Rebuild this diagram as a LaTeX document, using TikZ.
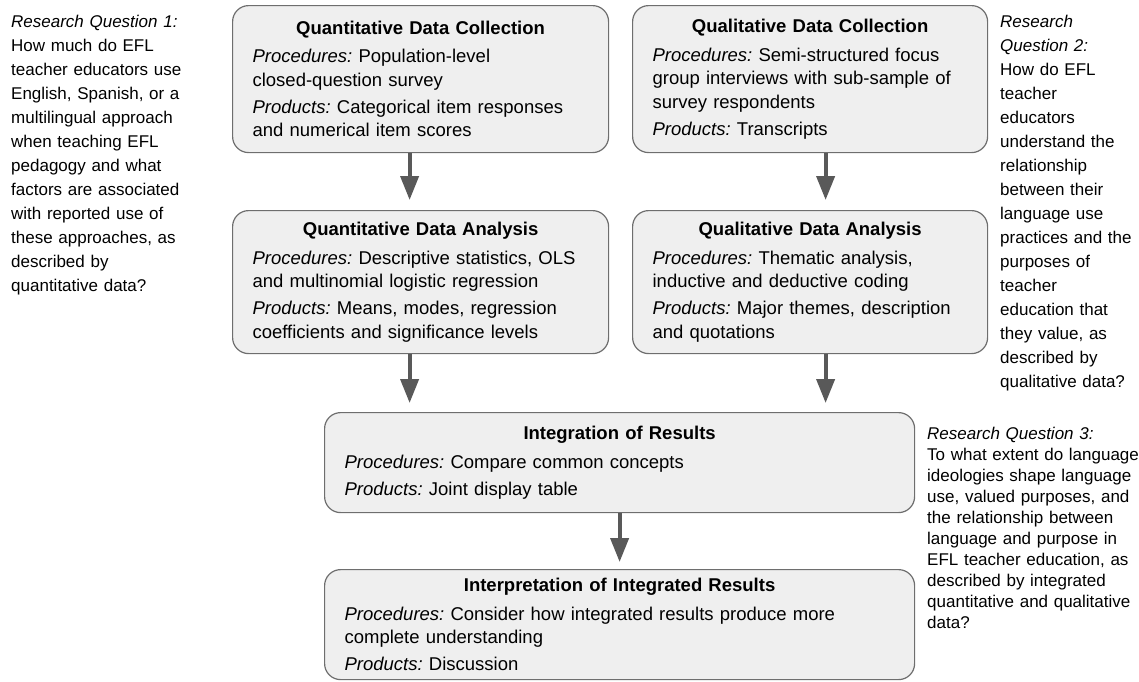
\documentclass[tikz,border=0pt]{standalone}
\usepackage{fontspec}
\setmainfont{Liberation Sans}
\usetikzlibrary{arrows.meta}
\definecolor{boxfill}{HTML}{EFEFEF}
\definecolor{boxline}{HTML}{6E6E6E}
\definecolor{flowgray}{HTML}{595959}
\newcommand{\stagetext}[3]{{\centering\bfseries #1\par}\vspace{5pt}\noindent\textit{Procedures:} #2\par\vspace{3.5pt}\noindent\textit{Products:} #3}

\begin{document}
\begin{tikzpicture}[x=1pt, y=-1pt,
	stage/.style={draw=boxline, fill=boxfill, line width=1.2pt, rounded corners=16pt, anchor=north west, align=left, inner xsep=20pt, inner ysep=0pt, font=\fontsize{18.5}{23.5}\selectfont\frenchspacing},
	question/.style={anchor=north west, align=left, inner sep=0pt, font=\fontsize{17}{24}\selectfont\frenchspacing},
	flow/.style={draw=flowgray, line width=4pt, -{Triangle[width=18pt,length=24pt]}}]
	\useasboundingbox (0,0) rectangle (1139,681);
	\node[question, text width=220pt] (rqa) at (11,15) {\textit{Research Question 1:}\\How much do EFL\\teacher educators use\\English, Spanish, or a\\multilingual approach\\when teaching EFL\\pedagogy and what\\factors are associated\\with reported use of\\these approaches, as\\described by\\quantitative data?};
	\node[question, text width=135pt] (rqb) at (1000,15) {\textit{Research}\\\textit{Question 2:}\\How do EFL\\teacher\\educators\\understand the\\relationship\\between their\\language use\\practices and the\\purposes of\\teacher\\education that\\they value, as\\described by\\qualitative data?};
	\node[question, text width=240pt, font=\fontsize{17}{21}\selectfont\frenchspacing] (rqc) at (927,427) {\textit{Research Question 3:}\\To what extent do language\\ideologies shape language\\use, valued purposes, and\\the relationship between\\language and purpose in\\EFL teacher education, as\\described by integrated\\quantitative and qualitative\\data?};
	\node[stage, text width=336pt, minimum height=147pt] (qdc) at (232,5) {\stagetext{Quantitative Data Collection}{Population-level\\closed-question survey}{Categorical item responses\\and numerical item scores}};
	\node[stage, text width=315pt, minimum height=147pt] (ldc) at (632,5) {\stagetext{Qualitative Data Collection}{Semi-structured focus\\group interviews with sub-sample of\\survey respondents}{Transcripts}};
	\node[stage, text width=336pt, minimum height=143pt] (qda) at (232,210) {\stagetext{Quantitative Data Analysis}{Descriptive statistics, OLS\\and multinomial logistic regression}{Means, modes, regression\\coefficients and significance levels}};
	\node[stage, text width=315pt, minimum height=143pt] (lda) at (632,210) {\stagetext{Qualitative Data Analysis}{Thematic analysis,\\inductive and deductive coding}{Major themes, description\\and quotations}};
	\node[stage, text width=550pt, minimum height=100pt] (integ) at (324,412) {\stagetext{Integration of Results}{Compare common concepts}{Joint display table}};
	\node[stage, text width=550pt, minimum height=110pt] (interp) at (324,569) {\stagetext{Interpretation of Integrated Results}{Consider how integrated results produce more\\complete understanding}{Discussion}};
	\draw[flow, shorten >=10pt] ([xshift=-11pt]qdc.south) -- ([xshift=-11pt]qda.north);
	\draw[flow, shorten >=10pt] ([xshift=15.5pt]ldc.south) -- ([xshift=15.5pt]lda.north);
	\draw[flow, shorten >=9pt] ([xshift=-11pt]qda.south) -- ([xshift=-11pt]qda.south |- integ.north);
	\draw[flow, shorten >=9pt] ([xshift=15.5pt]lda.south) -- ([xshift=15.5pt]lda.south |- integ.north);
	\draw[flow, shorten >=7pt] (integ.south) -- (interp.north);
\end{tikzpicture}
\end{document}
